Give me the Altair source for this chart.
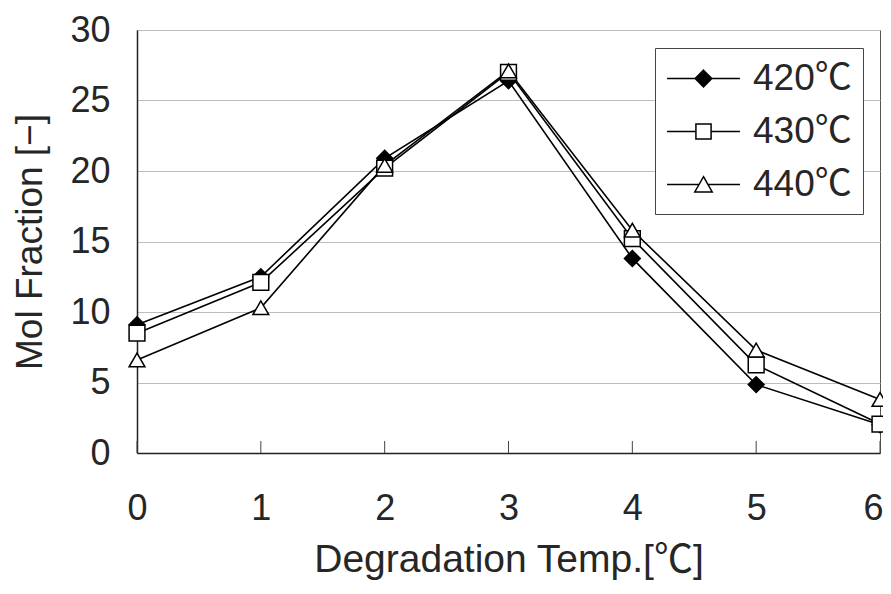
import altair as alt
import pandas as pd

x_vals = [0, 1, 2, 3, 4, 5, 6]
series_names = ["420℃", "430℃", "440℃"]
s420 = [9.1, 12.5, 20.9, 26.4, 13.8, 4.85, 2.0]
s430 = [8.5, 12.1, 20.2, 27.0, 15.2, 6.25, 2.05]
s440 = [6.6, 10.3, 20.4, 27.1, 15.8, 7.3, 3.8]
y_ticks = [0, 5, 10, 15, 20, 25, 30]

rows = []
for name, vals in zip(series_names, [s420, s430, s440]):
    for xv, yv in zip(x_vals, vals):
        rows.append({"x": xv, "y": yv, "series": name})
df = pd.DataFrame(rows)
ticks_df = pd.DataFrame({"x": x_vals})

W, H = 743, 423
FONT = "Liberation Sans, Noto Sans CJK JP, sans-serif"
TXT = "#262626"

xscale = alt.Scale(domain=[0, 6], nice=False, zero=False)
yscale = alt.Scale(domain=[0, 30], nice=False)

xenc = alt.X("x:Q", scale=xscale, axis=alt.Axis(
    values=x_vals, title="Degradation Temp.[℃]", grid=False, tickSize=0,
    labelPadding=38, titlePadding=14, format="d", titleFontSize=39,
    labelAlign={"condition": {"test": "datum.value == 6", "value": "right"},
                "value": "center"},
    labelOffset={"condition": {"test": "datum.value == 6", "value": 3},
                 "value": 0}))
yenc = alt.Y("y:Q", scale=yscale, axis=alt.Axis(
    values=y_ticks, title="Mol Fraction [−]", grid=True, tickSize=0,
    labelPadding=27, titlePadding=20))

base = alt.Chart(df).encode(x=xenc, y=yenc, detail="series:N")

lines = base.mark_line(color="black", strokeWidth=1.6)

points = base.mark_point(stroke="black", strokeWidth=1.5, size=250, opacity=1,
                         fillOpacity=1).encode(
    shape=alt.Shape("series:N", scale=alt.Scale(domain=series_names,
                    range=["diamond", "square", "triangle-up"]), legend=None),
    fill=alt.Fill("series:N", scale=alt.Scale(domain=series_names,
                  range=["black", "white", "white"]), legend=None),
)

inner_ticks = alt.Chart(ticks_df).mark_rule(color="#444", strokeWidth=1).encode(
    x=alt.X("x:Q", scale=xscale),
    y=alt.value(H), y2=alt.value(H - 12))

leg_paths = [
    "M-1.97,0H-0.45M0.45,0H1.97M0,-0.45L0.45,0L0,0.45L-0.45,0Z",
    "M-1.97,0H-0.41M0.41,0H1.97M-0.41,-0.41H0.41V0.41H-0.41Z",
    "M-1.97,0H-0.23M0.23,0H1.97M0,-0.42L0.47,0.4L-0.47,0.4Z",
]
legend = alt.Legend(title=None, orient="none", legendX=518, legendY=18,
                    symbolSize=1369, symbolStrokeWidth=1.5,
                    symbolStrokeColor="black", symbolOffset=18,
                    labelFontSize=37, labelFont=FONT, labelColor=TXT,
                    labelOffset=30, rowPadding=15, padding=11,
                    strokeColor="#444", fillColor="white")

legend_layer = alt.Chart(df).transform_filter("datum.x < -100").mark_point(
    strokeWidth=1.5, size=1369, opacity=1, fillOpacity=1).encode(
    x=alt.X("x:Q", scale=xscale), y=alt.Y("y:Q", scale=yscale),
    shape=alt.Shape("series:N", scale=alt.Scale(domain=series_names,
                    range=leg_paths), legend=legend),
    fill=alt.Fill("series:N", scale=alt.Scale(domain=series_names,
                  range=["black", "white", "white"]), legend=legend),
    stroke=alt.Stroke("series:N", scale=alt.Scale(domain=series_names,
                      range=["black", "black", "black"]), legend=legend),
)

chart = alt.layer(inner_ticks, lines, points, legend_layer).resolve_scale(
    shape="independent", fill="independent", stroke="independent"
).properties(
    width=W, height=H, background="white",
    autosize=alt.AutoSizeParams(type="none"),
    padding={"left": 129, "top": 22, "right": 3, "bottom": 127},
).configure_view(
    stroke="#555", strokeWidth=1
).configure_axis(
    labelFont=FONT, titleFont=FONT, labelFontSize=36, titleFontSize=37,
    labelColor=TXT, titleColor=TXT, titleFontWeight="normal",
    domainColor="#222", domainWidth=1.5, gridColor="#bdbdbd", gridWidth=1,
)

chart.save("out.html", embed_options={"renderer": "svg", "actions": False})
